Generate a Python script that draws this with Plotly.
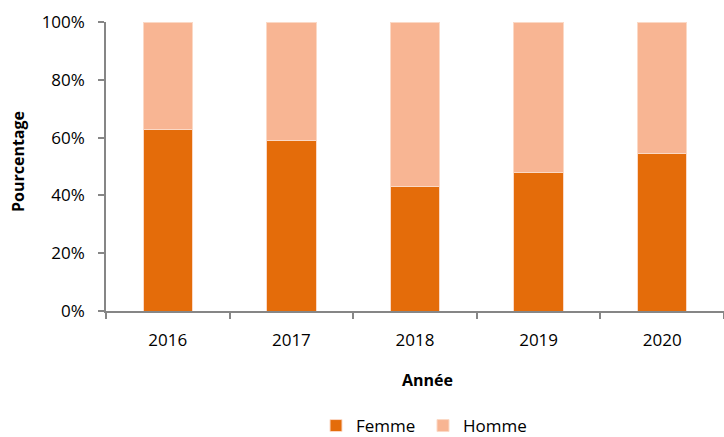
import plotly.graph_objects as go

years = ["2016", "2017", "2018", "2019", "2020"]
femme = [62.8, 59.1, 43.2, 48.0, 54.5]
homme = [100 - v for v in femme]

FONT = "Open Sans"
W, H = 724, 437
fig = go.Figure()
fig.add_trace(go.Bar(x=years, y=femme, name="Femme",
                     marker=dict(color="#E46C0A", line=dict(color="#FBD9C6", width=1)), width=0.4))
fig.add_trace(go.Bar(x=years, y=homme, name="Homme",
                     marker=dict(color="#F8B593", line=dict(color="#FBD9C6", width=1)), width=0.4))

fig.update_layout(
    width=W, height=H,
    barmode="stack",
    plot_bgcolor="white", paper_bgcolor="white",
    margin=dict(l=106, r=0, t=22, b=126),
    font=dict(family=FONT, size=17, color="#000000"),
    legend=dict(orientation="h", xref="container", yref="container",
                x=316 / W, xanchor="left", y=1 - 426 / H, yanchor="middle",
                font=dict(size=17), traceorder="normal",
                entrywidth=62, entrywidthmode="pixels"),
    xaxis=dict(
        type="category", range=[-0.5, 4.5],
        showline=True, linecolor="#868686", linewidth=1.5,
        ticks="outside", ticklen=6, tickcolor="#868686", tickwidth=1.5,
        tickson="boundaries", showgrid=False,
        tickfont=dict(size=17), ticklabelstandoff=13,
    ),
    yaxis=dict(
        range=[0, 100], dtick=20, ticksuffix="%",
        showline=True, linecolor="#868686", linewidth=1.5,
        ticks="outside", ticklen=6, tickcolor="#868686", tickwidth=1.5,
        showgrid=False, zeroline=False,
        tickfont=dict(size=17), ticklabelstandoff=10,
    ),
    annotations=[
        dict(text="<b>Année</b>", xref="paper", yref="paper",
             x=(427 - 106) / 618, y=-(380 - 311) / 289, xanchor="center", yanchor="middle",
             showarrow=False, font=dict(size=16)),
        dict(text="<b>Pourcentage</b>", xref="paper", yref="paper",
             x=-(106 - 18) / 618, y=(311 - 162) / 289, xanchor="center", yanchor="middle",
             textangle=-90, showarrow=False, font=dict(size=16)),
    ],
)
fig.write_html("out.html", config={"displayModeBar": False},
               post_script="document.body.style.margin='0';")
